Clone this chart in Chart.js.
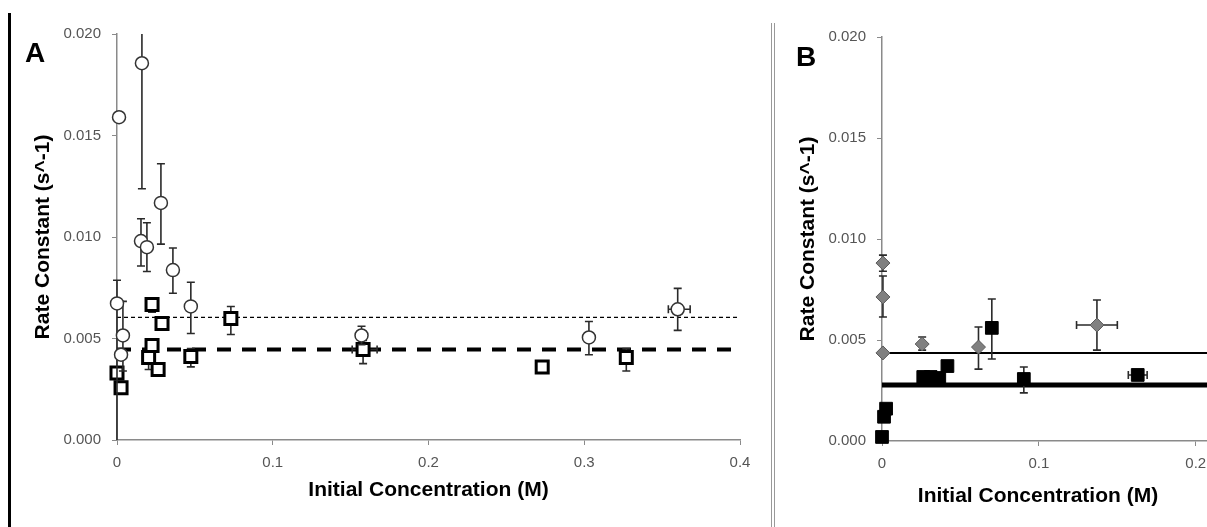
<!DOCTYPE html>
<html>
<head>
<meta charset="utf-8">
<script src="https://cdn.jsdelivr.net/npm/chart.js@4"></script>
<style>
  body { margin: 0; background: #fff; }
  #wrap { position: relative; width: 1207px; height: 527px; overflow: hidden; background: #fff; }
  canvas { position: absolute; top: 0; }
  #chartA { left: 0; }
  #chartB { left: 775px; }
  .panel-letter { position: absolute; font: bold 28px "Liberation Sans", Arial, sans-serif; line-height: 28px; color: #000; }
  #leftbar { position: absolute; left: 8px; top: 13px; width: 3px; height: 514px; background: #000; }
  #divider { position: absolute; left: 771px; top: 23px; width: 2px; height: 504px; border-left: 1px solid #999; border-right: 1px solid #999; }
  #bXTitle { position: absolute; left: 878px; top: 482px; width: 320px; text-align: center;
             font: bold 21px "Liberation Sans", Arial, sans-serif; line-height: 25px; color: #000; }
</style>
</head>
<body>
<div id="wrap">
  <div id="leftbar"></div>
  <div id="divider"></div>
  <canvas id="chartA" width="770" height="527"></canvas>
  <canvas id="chartB" width="470" height="527"></canvas>
  <div class="panel-letter" style="left:25px;top:39px">A</div>
  <div class="panel-letter" style="left:796px;top:43px">B</div>
  <div id="bXTitle">Initial Concentration (M)</div>
</div>
<script>
// ---- panel A data ----
const aCircX   = [0.0013, 0.016, 0.0154, 0.0192, 0.0282, 0.0359, 0.0474, 0.0, 0.0038, 0.0026, 0.157, 0.303, 0.360]
const aCircY   = [0.0159, 0.01856, 0.0098, 0.0095, 0.01168, 0.00837, 0.00658, 0.00673, 0.00515, 0.0042, 0.00515, 0.00505, 0.00644]
const aCircYLo = [null, 0.01238, 0.00857, 0.0083, 0.00965, 0.00723, 0.00525, -0.001, 0.0034, null, 0.0047, 0.0042, 0.0054]
const aCircYHi = [null, 0.0235, 0.0109, 0.0107, 0.01361, 0.00946, 0.00777, 0.00787, 0.00683, null, 0.0056, 0.00584, 0.00747]
const aCircXLo = [null, null, null, null, null, null, null, null, null, null, null, null, 0.354]
const aCircXHi = [null, null, null, null, null, null, null, null, null, null, null, null, 0.368]

const aSqX   = [0.0, 0.0026, 0.0225, 0.0289, 0.0225, 0.0203, 0.0264, 0.0474, 0.0731, 0.158, 0.273, 0.327]
const aSqY   = [0.0033, 0.00257, 0.00668, 0.00574, 0.00465, 0.00406, 0.00347, 0.00411, 0.00599, 0.00446, 0.0036, 0.00406]
const aSqYLo = [null, null, 0.0063, null, null, 0.00347, null, 0.0036, 0.0052, 0.00376, null, 0.0034]
const aSqYHi = [null, null, 0.0069, null, null, 0.0045, null, 0.0045, 0.00658, 0.0049, null, 0.0045]
const aSqXLo = [null, null, null, null, null, null, null, null, null, 0.151, null, null]
const aSqXHi = [null, null, null, null, null, null, null, null, null, 0.167, null, null]

const aFitX = [0, 0.4]
const aFitCirc = 0.00604
const aFitSq = 0.00446

// ---- panel B data ----
const bDiaX   = [0.0006, 0.0006, 0.0006, 0.0256, 0.0615, 0.137]
const bDiaY   = [0.00881, 0.00713, 0.00436, 0.0048, 0.00465, 0.00574]
const bDiaYLo = [0.0084, 0.00614, null, 0.0045, 0.00356, 0.0045]
const bDiaYHi = [0.0092, 0.00817, null, 0.00515, 0.00564, 0.00698]
const bDiaXLo = [null, null, null, null, null, 0.124]
const bDiaXHi = [null, null, null, null, null, 0.150]

const bSqX   = [0.0, 0.0013, 0.0026, 0.0263, 0.031, 0.0365, 0.0417, 0.070, 0.0904, 0.163]
const bSqY   = [0.0002, 0.0012, 0.0016, 0.00317, 0.00317, 0.00312, 0.00371, 0.0056, 0.00307, 0.00327]
const bSqYLo = [null, null, null, null, null, null, null, 0.00406, 0.00238, null]
const bSqYHi = [null, null, null, null, null, null, null, 0.00703, 0.00366, null]
const bSqXLo = [null, null, null, null, null, null, null, null, null, 0.157]
const bSqXHi = [null, null, null, null, null, null, null, null, null, 0.169]

const bFitX = [0, 0.225]
const bFitDia = 0.00436
const bFitSq = 0.00277

// ---- ticks ----
const yTicks = [0, 0.005, 0.01, 0.015, 0.02]
const yTickLabels = ['0.000', '0.005', '0.010', '0.015', '0.020']
const aXTicks = [0, 0.1, 0.2, 0.3, 0.4]
const aXTickLabels = ['0', '0.1', '0.2', '0.3', '0.4']
const bXTicks = [0, 0.1, 0.2]
const bXTickLabels = ['0', '0.1', '0.2']

const pts = (xs, ys) => xs.map((x, i) => ({x: x, y: ys[i]}))
const fit = (xs, v) => xs.map(x => ({x: x, y: v}))

// error bars drawn behind each marker set
const errorBars = {
    id: 'errorBars',
    beforeDatasetDraw(chart, args) {
        const ds = chart.data.datasets[args.index]
        if (!ds.errYLo) return
        const {ctx, chartArea: ca} = chart
        const xs = chart.scales.x, ys = chart.scales.y
        const cap = 4
        ctx.save()
        ctx.beginPath()
        ctx.rect(ca.left - 10, ca.top, ca.right - ca.left + 20, ca.bottom - ca.top)
        ctx.clip()
        ctx.strokeStyle = '#2a2a2a'
        ctx.lineWidth = 1.6
        ds.data.forEach((p, i) => {
            const px = xs.getPixelForValue(p.x), py = ys.getPixelForValue(p.y)
            const lo = ds.errYLo[i], hi = ds.errYHi[i]
            ctx.beginPath()
            if (lo != null) {
                const pl = ys.getPixelForValue(lo), ph = ys.getPixelForValue(hi)
                ctx.moveTo(px, pl); ctx.lineTo(px, ph)
                ctx.moveTo(px - cap, pl); ctx.lineTo(px + cap, pl)
                ctx.moveTo(px - cap, ph); ctx.lineTo(px + cap, ph)
            }
            const xl = ds.errXLo[i], xh = ds.errXHi[i]
            if (xl != null) {
                const ql = xs.getPixelForValue(xl), qh = xs.getPixelForValue(xh)
                ctx.moveTo(ql, py); ctx.lineTo(qh, py)
                ctx.moveTo(ql, py - cap); ctx.lineTo(ql, py + cap)
                ctx.moveTo(qh, py - cap); ctx.lineTo(qh, py + cap)
            }
            ctx.stroke()
        })
        ctx.restore()
    }
}

const tickFont = {family: '"Liberation Sans", Arial, sans-serif', size: 15}
const titleFont = {family: '"Liberation Sans", Arial, sans-serif', size: 21, weight: 'bold'}

function makeOptions(cfg) {
    return {
        responsive: false,
        animation: false,
        events: [],
        layout: {padding: {left: 0, right: cfg.padRight, top: cfg.padTop, bottom: 0}},
        plugins: {legend: {display: false}, tooltip: {enabled: false}},
        scales: {
            x: {
                type: 'linear',
                min: cfg.xMin, max: cfg.xMax,
                bounds: 'data',
                afterFit: s => { s.height = cfg.xHeight },
                afterBuildTicks: s => { s.ticks = cfg.xTicks.map(v => ({value: v})) },
                ticks: {
                    font: tickFont, color: '#555', padding: 9, maxRotation: 0,
                    callback: (v, i) => cfg.xTickLabels[i]
                },
                grid: {drawOnChartArea: false, drawTicks: true, tickLength: 5, color: '#8a8a8a'},
                border: {display: true, color: '#8a8a8a', width: 1.5},
                title: {display: cfg.xTitle, text: 'Initial Concentration (M)', font: titleFont, color: '#000',
                        padding: {top: 0, bottom: cfg.xTitlePad}}
            },
            y: {
                type: 'linear',
                min: 0, max: 0.02,
                afterFit: s => { s.width = cfg.yWidth },
                afterBuildTicks: s => { s.ticks = yTicks.map(v => ({value: v})) },
                ticks: {
                    font: tickFont, color: '#555', padding: 11,
                    callback: (v, i) => yTickLabels[i]
                },
                grid: {drawOnChartArea: false, drawTicks: true, tickLength: 5, color: '#8a8a8a'},
                border: {display: true, color: '#8a8a8a', width: 1.5},
                title: {display: true, text: 'Rate Constant (s^-1)', font: titleFont, color: '#000',
                        padding: {top: cfg.yTitlePad, bottom: 0}}
            }
        }
    }
}

new Chart(document.getElementById('chartA').getContext('2d'), {
    type: 'scatter',
    data: {
        datasets: [
            {
                data: pts(aCircX, aCircY),
                errYLo: aCircYLo, errYHi: aCircYHi, errXLo: aCircXLo, errXHi: aCircXHi,
                pointStyle: 'circle', pointRadius: 6.5,
                backgroundColor: '#fff', borderColor: '#333', borderWidth: 1.5, clip: false
            },
            {
                data: pts(aSqX, aSqY),
                errYLo: aSqYLo, errYHi: aSqYHi, errXLo: aSqXLo, errXHi: aSqXHi,
                pointStyle: 'rect', pointRadius: 8.5,
                backgroundColor: '#fff', borderColor: '#000', borderWidth: 3, clip: false
            },
            {
                type: 'line', data: fit(aFitX, aFitCirc),
                borderColor: '#000', borderWidth: 1.2, borderDash: [4, 3], pointRadius: 0, fill: false
            },
            {
                type: 'line', data: fit(aFitX, aFitSq),
                borderColor: '#000', borderWidth: 4, borderDash: [14, 11], pointRadius: 0, fill: false
            }
        ]
    },
    options: makeOptions({
        padRight: 30, padTop: 34, xMin: 0, xMax: 0.4, xHeight: 87, yWidth: 117,
        xTicks: aXTicks, xTickLabels: aXTickLabels, xTitle: true, xTitlePad: 24, yTitlePad: 31
    }),
    plugins: [errorBars]
})

new Chart(document.getElementById('chartB').getContext('2d'), {
    type: 'scatter',
    data: {
        datasets: [
            {
                data: pts(bDiaX, bDiaY),
                errYLo: bDiaYLo, errYHi: bDiaYHi, errXLo: bDiaXLo, errXHi: bDiaXHi,
                pointStyle: 'rectRot', pointRadius: 7,
                backgroundColor: '#808080', borderColor: '#5a5a5a', borderWidth: 1, clip: false
            },
            {
                data: pts(bSqX, bSqY),
                errYLo: bSqYLo, errYHi: bSqYHi, errXLo: bSqXLo, errXHi: bSqXHi,
                pointStyle: 'rect', pointRadius: 9,
                backgroundColor: '#000', borderColor: '#000', borderWidth: 1, clip: false
            },
            {
                type: 'line', data: fit(bFitX, bFitDia),
                borderColor: '#000', borderWidth: 2, pointRadius: 0, fill: false
            },
            {
                type: 'line', data: fit(bFitX, bFitSq),
                borderColor: '#000', borderWidth: 5, pointRadius: 0, fill: false
            }
        ]
    },
    options: makeOptions({
        padRight: 4, padTop: 37, xMin: 0, xMax: 0.225, xHeight: 86, yWidth: 107,
        xTicks: bXTicks, xTickLabels: bXTickLabels, xTitle: false, xTitlePad: 19, yTitlePad: 21
    }),
    plugins: [errorBars]
})
</script>
</body>
</html>
